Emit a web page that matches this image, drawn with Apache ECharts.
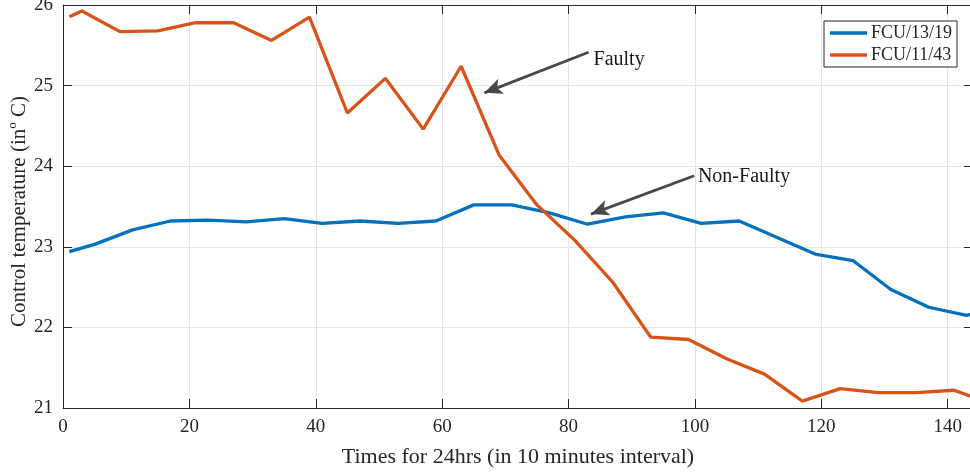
<!DOCTYPE html>
<html>
<head>
<meta charset="utf-8">
<script src="https://cdn.jsdelivr.net/npm/echarts@6/dist/echarts.min.js"></script>
<style>
html,body{margin:0;padding:0;background:#fff;}
#chart{width:970px;height:472px;}
</style>
</head>
<body>
<div id="chart"></div>
<script>
// ---- data ----
const seriesNames = ['FCU/13/19', 'FCU/11/43'];
const blueX = [1, 5, 11, 17, 23, 29, 35, 41, 47, 53, 59, 65, 71, 77, 83, 89, 95, 101, 107, 119, 125, 131, 137, 143, 144];
const blueY = [22.94, 23.03, 23.21, 23.32, 23.33, 23.31, 23.35, 23.29, 23.32, 23.29, 23.32, 23.52, 23.52, 23.42, 23.28, 23.37, 23.42, 23.29, 23.32, 22.91, 22.83, 22.47, 22.25, 22.15, 22.17];
const orangeX = [1, 3, 9, 15, 21, 27, 33, 39, 45, 51, 57, 63, 69, 75, 81, 87, 93, 99, 105, 111, 117, 123, 129, 135, 141, 144];
const orangeY = [25.855, 25.925, 25.67, 25.68, 25.78, 25.78, 25.56, 25.85, 24.66, 25.09, 24.46, 25.24, 24.14, 23.52, 23.08, 22.56, 21.88, 21.85, 21.61, 21.42, 21.085, 21.24, 21.19, 21.19, 21.22, 21.135];
const xTicks = [0, 20, 40, 60, 80, 100, 120, 140];
const yTicks = [21, 22, 23, 24, 25, 26];
const annoText = ['Faulty', 'Non-Faulty'];

// ---- annotation placement (data coords) ----
const annoArrows = [
  [[83.16, 25.413], [66.68, 24.910]],
  [[99.89, 23.881], [83.55, 23.406]]
];
const annoLabelPos = [[83.95, 25.317], [100.47, 23.868]];

const FONT = 'Liberation Serif';
const TXT = '#262626';

const chart = echarts.init(document.getElementById('chart'), null, {renderer: 'canvas'});

const pairs = (xs, ys) => xs.map((x, i) => [x, ys[i]]);

const xAxisBase = {
  type: 'value', min: 0, max: 144, interval: 20,
  axisLine: {show: true, onZero: false, lineStyle: {color: TXT, width: 1}},
  axisTick: {show: true, inside: true, length: 9, lineStyle: {color: TXT, width: 1}},
};
const yAxisBase = {
  type: 'value', min: 21, max: 26, interval: 1,
  axisLine: {show: true, onZero: false, lineStyle: {color: TXT, width: 1}},
  axisTick: {show: true, inside: true, length: 9, lineStyle: {color: TXT, width: 1}},
};

chart.setOption({
  backgroundColor: '#ffffff',
  animation: false,
  grid: {left: 63, right: -3, top: 5, bottom: 64, containLabel: false, outerBoundsMode: 'none'},
  xAxis: [
    Object.assign({}, xAxisBase, {
      position: 'bottom',
      name: 'Times for 24hrs (in 10 minutes interval)',
      nameLocation: 'middle', nameGap: 38, nameMoveOverlap: false,
      nameTextStyle: {fontFamily: FONT, fontSize: 22, color: TXT},
      axisLabel: {show: true, margin: 10, fontFamily: FONT, fontSize: 19, color: TXT,
        formatter: v => xTicks.includes(v) ? String(v) : ''},
      splitLine: {show: true, lineStyle: {color: '#e3e3e3', width: 1}}
    }),
    Object.assign({}, xAxisBase, {
      position: 'top', axisLabel: {show: false}, splitLine: {show: false}
    })
  ],
  yAxis: [
    Object.assign({}, yAxisBase, {
      position: 'left',
      name: '{a|Control temperature (in}{s|o}{a| C)}',
      nameLocation: 'middle', nameGap: 33, nameMoveOverlap: false,
      nameTextStyle: {fontFamily: FONT, fontSize: 21, color: TXT, padding: [0, 10, 0, 0],
        rich: {
          a: {fontFamily: FONT, fontSize: 21, color: TXT, lineHeight: 24, verticalAlign: 'bottom'},
          s: {fontFamily: FONT, fontSize: 13, color: TXT, lineHeight: 24, verticalAlign: 'top', padding: [0, 0, 9, 0]}
        }},
      axisLabel: {show: true, margin: 10, fontFamily: FONT, fontSize: 19, color: TXT,
        formatter: v => yTicks.includes(v) ? String(v) : ''},
      splitLine: {show: true, lineStyle: {color: '#e3e3e3', width: 1}}
    }),
    Object.assign({}, yAxisBase, {
      position: 'right', axisLabel: {show: false}, splitLine: {show: false}
    })
  ],
  legend: {
    data: seriesNames,
    orient: 'vertical',
    left: 824, top: 21,
    padding: [3, 5, 3, 6],
    itemGap: 4,
    icon: 'rect',
    itemWidth: 37, itemHeight: 3.5,
    backgroundColor: '#ffffff',
    borderColor: '#262626', borderWidth: 1,
    textStyle: {fontFamily: FONT, fontSize: 18, color: TXT, padding: [0, 0, 0, -1]}
  },
  series: [
    {
      name: seriesNames[0], type: 'line', data: pairs(blueX, blueY),
      showSymbol: false, symbol: 'none', clip: true,
      lineStyle: {color: '#0072BD', width: 3.3}, itemStyle: {color: '#0072BD'}, z: 3
    },
    {
      name: seriesNames[1], type: 'line', data: pairs(orangeX, orangeY),
      showSymbol: false, symbol: 'none', clip: true,
      lineStyle: {color: '#D95319', width: 3.3}, itemStyle: {color: '#D95319'}, z: 4
    },
    {
      name: 'annotations', type: 'line', data: [], z: 6,
      markLine: {
        silent: true, animation: false,
        symbol: ['none', 'arrow'], symbolSize: [12, 18],
        lineStyle: {color: '#484848', width: 2.8, type: 'solid'},
        label: {show: false},
        data: annoArrows.map(a => [{coord: a[0]}, {coord: a[1]}])
      },
      markPoint: {
        silent: true, animation: false,
        symbol: 'circle', symbolSize: 0,
        label: {show: true, position: 'right', distance: 0, fontFamily: FONT, fontSize: 20, color: '#1a1a1a',
          formatter: p => p.name},
        data: annoLabelPos.map((p, i) => ({name: annoText[i], coord: p}))
      }
    }
  ]
});
</script>
</body>
</html>
